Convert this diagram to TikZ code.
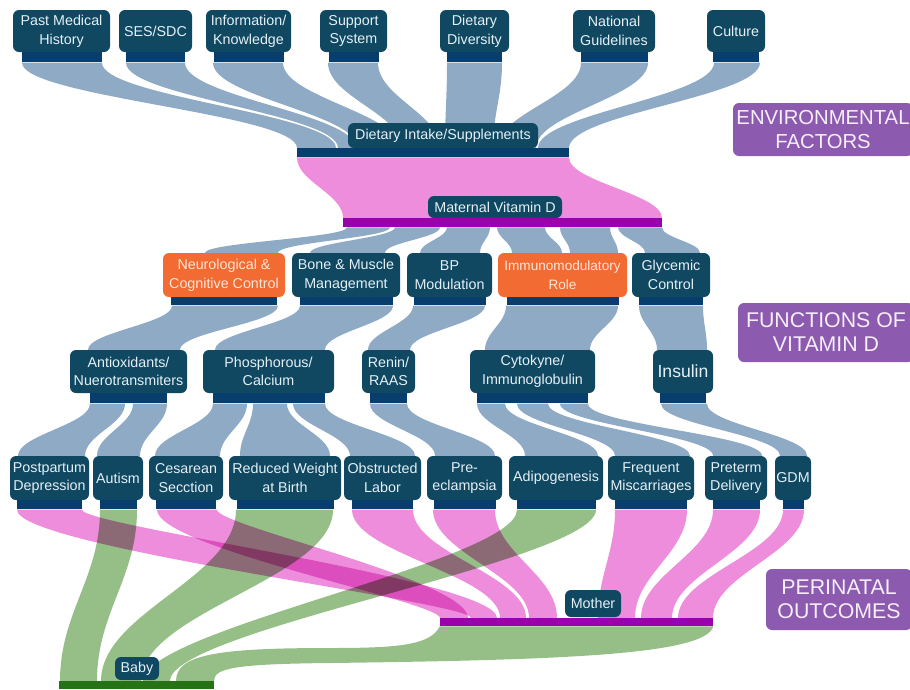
\documentclass[tikz,border=0pt]{standalone}
\usepackage{fontspec}
\setmainfont{Liberation Sans}
\usetikzlibrary{positioning, calc, backgrounds}

\definecolor{boxteal}{RGB}{16,72,98}
\definecolor{barblue}{RGB}{7,62,110}
\definecolor{boxtext}{RGB}{228,240,246}
\definecolor{funcorange}{RGB}{241,107,50}
\definecolor{orangetext}{RGB}{255,230,214}
\definecolor{secpurple}{RGB}{140,90,175}
\definecolor{sectext}{RGB}{246,238,250}
\definecolor{flowblue}{RGB}{143,170,196}
\definecolor{flowpink}{RGB}{237,141,220}
\definecolor{flowgreen}{RGB}{150,191,136}
\definecolor{magbar}{RGB}{155,0,175}
\definecolor{babybar}{RGB}{38,115,22}

\newlength{\pu}\setlength{\pu}{0.3mm}
\newcommand{\boxfont}{\fontsize{12.2}{16}\selectfont}
\newcommand{\secfont}{\fontsize{18.2}{20.5}\selectfont}

% band from x-range #2..#3 under node #1 to x-range #5..#6 on top of node #4,
% #8 and #9 set how soon the edges bend
\newcommand{\bandx}[9]{%
  \path (#2,0 |- #1.south) coordinate (t1) (#3,0 |- #1.south) coordinate (t2)
        (#5,0 |- #4.north) coordinate (b1) (#6,0 |- #4.north) coordinate (b2);
  \fill[#7] (t1) -- (t2)
    .. controls ($(t2)!#8!(t2 |- b2)$) and ($(b2)!#9!(b2 |- t2)$) .. (b2)
    -- (b1)
    .. controls ($(b1)!#8!(b1 |- t1)$) and ($(t1)!#9!(t1 |- b1)$) .. (t1) -- cycle;
}
\newcommand{\band}[7]{\bandx{#1}{#2}{#3}{#4}{#5}{#6}{#7}{.4}{.4}}

\begin{document}
\begin{tikzpicture}[
    x=0.3mm, y=-0.3mm,
    tbox/.style={
        rectangle,
        rounded corners=6\pu,
        fill=boxteal,
        text=boxtext,
        font=\boxfont,
        align=center,
        inner sep=0pt,
        minimum height=42\pu
    },
    obox/.style={
        tbox,
        fill=funcorange,
        text=orangetext
    },
    tbar/.style={
        rectangle,
        fill=barblue,
        inner sep=0pt,
        minimum height=10\pu
    },
    secbox/.style={
        rectangle,
        rounded corners=6\pu,
        fill=secpurple,
        text=sectext,
        font=\secfont,
        align=center,
        inner sep=0pt
    },
    blueflow/.style={fill=flowblue, blend mode=multiply},
    pinkflow/.style={fill=flowpink, blend mode=multiply},
    greenflow/.style={fill=flowgreen, blend mode=multiply}
]
    \useasboundingbox (0,0) rectangle (910,689);

    % Environmental factors
    \node[tbox, minimum width=97\pu] (pmh) at (61.5,31) {Past Medical\\History};
    \node[tbar, minimum width=80\pu, below=0pt of pmh] (pmh-b) {};
    \node[tbox, minimum width=73\pu] (ses) at (155.5,31) {SES/SDC};
    \node[tbar, minimum width=59\pu, below=0pt of ses] (ses-b) {};
    \node[tbox, minimum width=85\pu] (info) at (248.5,31) {Information/\\Knowledge};
    \node[tbar, minimum width=70\pu, below=0pt of info] (info-b) {};
    \node[tbox, minimum width=67\pu] (supp) at (353.5,31) {Support\\System};
    \node[tbar, minimum width=50\pu, below=0pt of supp] (supp-b) {};
    \node[tbox, minimum width=69\pu] (ddiv) at (474.5,31) {Dietary\\Diversity};
    \node[tbar, minimum width=55\pu, below=0pt of ddiv] (ddiv-b) {};
    \node[tbox, minimum width=82\pu] (natg) at (614,31) {National\\Guidelines};
    \node[tbar, minimum width=67\pu, below=0pt of natg] (natg-b) {};
    \node[tbox, minimum width=58\pu] (cult) at (736,31) {Culture};
    \node[tbar, minimum width=46\pu, below=0pt of cult] (cult-b) {};

    % Dietary intake and maternal vitamin D
    \node[tbox, minimum width=190\pu, minimum height=25\pu] (diet) at (443,135.5) {Dietary Intake/Supplements};
    \node[tbar, minimum width=272\pu, minimum height=9\pu, anchor=north] (diet-b) at (433,148) {};
    \node[tbox, minimum width=134\pu, minimum height=22\pu] (mat) at (495,207) {Maternal Vitamin D};
    \node[tbar, fill=magbar, minimum width=319\pu, minimum height=9\pu, anchor=north] (mat-b) at (502.5,218) {};

    % Functions of vitamin D
    \node[obox, minimum width=122\pu, minimum height=44\pu] (neuro) at (224,275) {Neurological \&\\Cognitive Control};
    \node[tbar, minimum width=106\pu, minimum height=8\pu, below=0pt of neuro] (neuro-b) {};
    \node[tbox, minimum width=108\pu, minimum height=44\pu] (bone) at (346,275) {Bone \& Muscle\\Management};
    \node[tbar, minimum width=93\pu, minimum height=8\pu, below=0pt of bone] (bone-b) {};
    \node[tbox, minimum width=85\pu, minimum height=44\pu] (bp) at (449.5,275) {BP\\Modulation};
    \node[tbar, minimum width=72\pu, minimum height=8\pu, below=0pt of bp] (bp-b) {};
    \node[obox, minimum width=129\pu, minimum height=44\pu, font=\fontsize{11.6}{16}\selectfont] (immu) at (562.5,275) {Immunomodulatory\\Role};
    \node[tbar, minimum width=112\pu, minimum height=8\pu, below=0pt of immu] (immu-b) {};
    \node[tbox, minimum width=78\pu, minimum height=44\pu] (glyc) at (671,275) {Glycemic\\Control};
    \node[tbar, minimum width=64\pu, minimum height=8\pu, below=0pt of glyc] (glyc-b) {};

    \node[tbox, minimum width=117\pu, minimum height=43\pu] (antiox) at (128.5,371.5) {Antioxidants/\\Nuerotransmiters};
    \node[tbar, minimum width=77\pu, below=0pt of antiox] (antiox-b) {};
    \node[tbox, minimum width=131\pu, minimum height=43\pu] (phos) at (268.5,371.5) {Phosphorous/\\Calcium};
    \node[tbar, minimum width=112\pu, below=0pt of phos] (phos-b) {};
    \node[tbox, minimum width=53\pu, minimum height=43\pu] (renin) at (388.5,371.5) {Renin/\\RAAS};
    \node[tbar, minimum width=37\pu, below=0pt of renin] (renin-b) {};
    \node[tbox, minimum width=125\pu, minimum height=43\pu] (cyto) at (532.5,371.5) {Cytokyne/\\Immunoglobulin};
    \node[tbar, minimum width=111\pu, below=0pt of cyto] (cyto-b) {};
    \node[tbox, minimum width=60\pu, minimum height=43\pu, font=\fontsize{15}{18}\selectfont] (insul) at (683,371.5) {Insulin};
    \node[tbar, minimum width=46\pu, below=0pt of insul] (insul-b) {};

    % Perinatal outcomes
    \node[tbox, minimum width=79\pu, minimum height=44\pu] (ppd) at (49.5,478) {Postpartum\\Depression};
    \node[tbar, minimum width=65\pu, minimum height=9\pu, below=0pt of ppd] (ppd-b) {};
    \node[tbox, minimum width=50\pu, minimum height=44\pu] (aut) at (118,478) {Autism};
    \node[tbar, minimum width=37\pu, minimum height=9\pu, below=0pt of aut] (aut-b) {};
    \node[tbox, minimum width=74\pu, minimum height=44\pu] (ces) at (186,478) {Cesarean\\Secction};
    \node[tbar, minimum width=60\pu, minimum height=9\pu, below=0pt of ces] (ces-b) {};
    \node[tbox, minimum width=112\pu, minimum height=44\pu] (rwb) at (285,478) {Reduced Weight\\at Birth};
    \node[tbar, minimum width=97\pu, minimum height=9\pu, below=0pt of rwb] (rwb-b) {};
    \node[tbox, minimum width=77\pu, minimum height=44\pu] (obl) at (382.5,478) {Obstructed\\Labor};
    \node[tbar, minimum width=61\pu, minimum height=9\pu, below=0pt of obl] (obl-b) {};
    \node[tbox, minimum width=75\pu, minimum height=44\pu] (pre) at (464.5,478) {Pre-\\eclampsia};
    \node[tbar, minimum width=62\pu, minimum height=9\pu, below=0pt of pre] (pre-b) {};
    \node[tbox, minimum width=94\pu, minimum height=44\pu] (adi) at (556,478) {Adipogenesis};
    \node[tbar, minimum width=79\pu, minimum height=9\pu, below=0pt of adi] (adi-b) {};
    \node[tbox, minimum width=86\pu, minimum height=44\pu] (frm) at (651,478) {Frequent\\Miscarriages};
    \node[tbar, minimum width=72\pu, minimum height=9\pu, below=0pt of frm] (frm-b) {};
    \node[tbox, minimum width=62\pu, minimum height=44\pu] (ptd) at (736,478) {Preterm\\Delivery};
    \node[tbar, minimum width=47\pu, minimum height=9\pu, below=0pt of ptd] (ptd-b) {};
    \node[tbox, minimum width=36\pu, minimum height=44\pu] (gdm) at (793,478) {GDM};
    \node[tbar, minimum width=21\pu, minimum height=9\pu, below=0pt of gdm] (gdm-b) {};

    \node[tbox, minimum width=56\pu, minimum height=27\pu] (mo) at (593,603.5) {Mother};
    \node[tbar, fill=magbar, minimum width=273\pu, minimum height=8\pu, anchor=north] (mo-b) at (576.5,618) {};
    \node[tbox, minimum width=44\pu, minimum height=23\pu] (baby) at (137,668.5) {Baby};
    \node[tbar, fill=babybar, minimum width=155\pu, minimum height=8\pu, anchor=north] (baby-b) at (136.5,681) {};

    % Section labels
    \node[secbox, minimum width=180\pu, minimum height=53\pu, font=\fontsize{17.3}{20.5}\selectfont] (env) at (823,129.5) {ENVIRONMENTAL\\FACTORS};
    \node[secbox, minimum width=176\pu, minimum height=59\pu] (func) at (826,332.5) {FUNCTIONS OF\\VITAMIN D};
    \node[secbox, minimum width=146\pu, minimum height=61\pu] (peri) at (839,599.5) {PERINATAL\\OUTCOMES};
    \fill[secpurple] (env.north east) -- ++(10,0) -- ++(0,53) -- (env.south east) -- cycle;

    \begin{pgfonlayer}{background}
    % into dietary intake
    \band{pmh-b}{22}{102}{diet-b}{297}{336}{blueflow}
    \band{ses-b}{126}{185}{diet-b}{338}{356}{blueflow}
    \band{info-b}{213}{283}{diet-b}{358}{400}{blueflow}
    \band{supp-b}{328}{378}{diet-b}{402}{440}{blueflow}
    \band{ddiv-b}{447}{502}{diet-b}{445}{493}{blueflow}
    \band{natg-b}{581}{648}{diet-b}{497}{536}{blueflow}
    \band{cult-b}{714}{760}{diet-b}{538}{569}{blueflow}
    \band{diet-b}{297}{569}{mat-b}{343}{662}{pinkflow}

    % maternal vitamin D to its functions
    \band{mat-b}{347}{390}{neuro}{205}{278}{blueflow}
    \band{mat-b}{395}{440}{bone}{310}{385}{blueflow}
    \band{mat-b}{447}{490}{bp}{420}{480}{blueflow}
    \band{mat-b}{497}{545}{immu}{512}{562}{blueflow}
    \band{mat-b}{560}{610}{immu}{570}{618}{blueflow}
    \band{mat-b}{618}{662}{glyc}{645}{700}{blueflow}

    \band{neuro-b}{172}{278}{antiox}{88}{180}{blueflow}
    \band{bone-b}{300}{393}{phos}{215}{325}{blueflow}
    \band{bp-b}{413}{485}{renin}{368}{410}{blueflow}
    \band{immu-b}{506}{618}{cyto}{485}{590}{blueflow}
    \band{glyc-b}{639}{703}{insul}{657}{707}{blueflow}

    \band{antiox-b}{90}{125}{ppd}{18}{85}{blueflow}
    \band{antiox-b}{133}{167}{aut}{97}{140}{blueflow}
    \band{phos-b}{213}{247}{ces}{155}{220}{blueflow}
    \band{phos-b}{253}{287}{rwb}{240}{330}{blueflow}
    \band{phos-b}{293}{325}{obl}{350}{415}{blueflow}
    \band{renin-b}{370}{407}{pre}{435}{495}{blueflow}
    \band{cyto-b}{477}{505}{adi}{525}{598}{blueflow}
    \band{cyto-b}{517}{548}{frm}{615}{690}{blueflow}
    \band{cyto-b}{560}{588}{ptd}{713}{762}{blueflow}
    \band{insul-b}{661}{707}{gdm}{780}{807}{blueflow}

    % outcomes to mother and baby
    \bandx{ppd-b}{17}{82}{mo-b}{471}{497}{pinkflow}{.15}{.35}
    \bandx{ces-b}{157}{217}{mo-b}{440}{468}{pinkflow}{.15}{.35}
    \band{obl-b}{352}{413}{mo-b}{500}{526}{pinkflow}
    \band{pre-b}{433}{495}{mo-b}{529}{557}{pinkflow}
    \band{frm-b}{615}{687}{mo-b}{598}{635}{pinkflow}
    \band{ptd-b}{713}{760}{mo-b}{641}{672}{pinkflow}
    \band{gdm-b}{783}{804}{mo-b}{678}{713}{pinkflow}
    \band{aut-b}{100}{137}{baby-b}{60}{97}{greenflow}
    \band{rwb-b}{236}{333}{baby-b}{101}{141}{greenflow}
    \bandx{adi-b}{517}{596}{baby-b}{143}{170}{greenflow}{.3}{.3}

    % mother to baby
    \path (mo-b.south west) coordinate (m1) (mo-b.south east) coordinate (m2)
          (176,0 |- baby-b.north) coordinate (k1) (214,0 |- baby-b.north) coordinate (k2);
    \fill[greenflow] (m1) .. controls (430,645) and (400,648) .. (330,648)
        .. controls (215,648) and (176,655) .. (k1) -- (k2)
        .. controls (214,668) and (235,664) .. (330,663)
        .. controls (560,660) and (705,655) .. (m2) -- cycle;
    \end{pgfonlayer}
\end{tikzpicture}
\end{document}
